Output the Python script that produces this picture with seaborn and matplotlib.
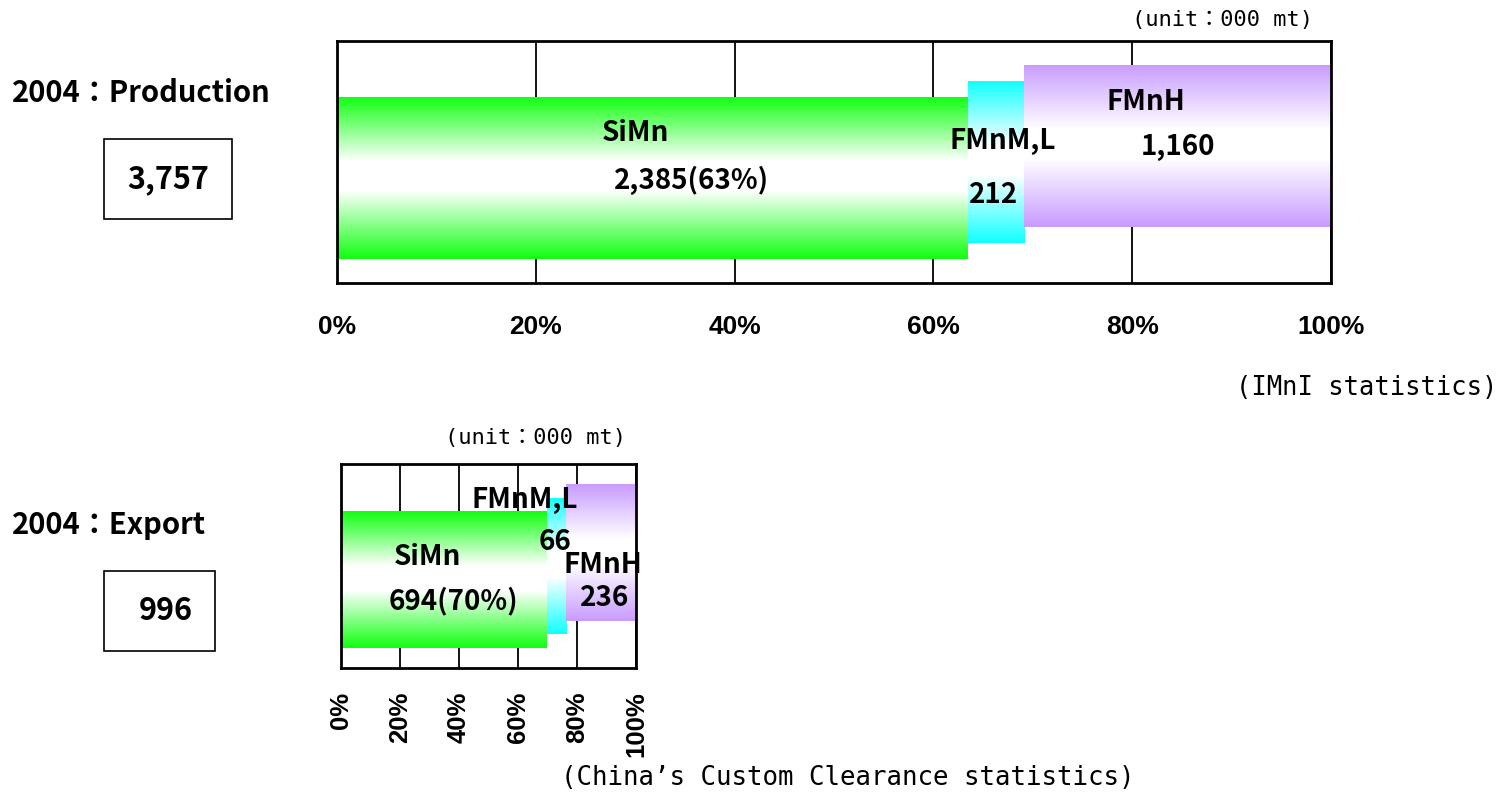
import numpy as np
import pandas as pd
import matplotlib
matplotlib.use("Agg")
import matplotlib.pyplot as plt
from matplotlib.colors import LinearSegmentedColormap
from matplotlib.patches import Rectangle
import seaborn as sns

# 2004 manganese alloys, 000 mt
grades = ["SiMn", "FMnM,L", "FMnH"]
production = [2385, 212, 1160]
export = [694, 66, 236]
bar_colors = ["#10ff10", "#10ffff", "#c89bff"]
tick_vals = [0, 20, 40, 60, 80, 100]
tick_labels = [f"{t}%" for t in tick_vals]

sns.set_theme(style="white")
plt.rcParams["font.family"] = ["Noto Sans CJK JP", "DejaVu Sans"]
plt.rcParams.update({"text.color": "black", "xtick.color": "black", "ytick.color": "black"})

MONO = ["DejaVu Sans Mono", "Noto Sans CJK JP"]
TICKFONT = ["Liberation Sans", "DejaVu Sans"]
BAR_H = 0.67
STEP = 0.065


def gradient_fill(ax, patch, color):
    cmap = LinearSegmentedColormap.from_list(
        "grad", [(0, color), (0.4, "white"), (0.58, "white"), (1, color)])
    grad = np.linspace(0, 1, 256).reshape(-1, 1)
    x0, y0 = patch.get_x(), patch.get_y()
    im = ax.imshow(grad, cmap=cmap, aspect="auto", origin="upper",
                   extent=(x0, x0 + patch.get_width(), y0, y0 + patch.get_height()),
                   zorder=2.5, interpolation="bilinear")
    im.set_clip_path(patch)


def draw_panel(ax, values, name_pos, val_pos, fs=20):
    total = sum(values)
    shares = [v / total * 100 for v in values]
    lefts = np.cumsum([0] + shares[:-1])
    for i, (share, left) in enumerate(zip(shares, lefts)):
        df = pd.DataFrame({"share": [share], "pos": [0.10 + STEP * i + BAR_H / 2]})
        sns.barplot(data=df, x="share", y="pos", orient="y", native_scale=True,
                    width=BAR_H, left=left, color=bar_colors[i], saturation=1,
                    errorbar=None, linewidth=0, zorder=2, ax=ax)
        gradient_fill(ax, ax.patches[-1], bar_colors[i])

    for i, v in enumerate(values):
        txt = f"{v:,}({v / total:.0%})" if i == 0 else f"{v:,}"
        ax.text(*name_pos[i], grades[i], ha="center", va="center",
                fontsize=fs, fontweight="bold", color="black", zorder=5)
        ax.text(*val_pos[i], txt, ha="center", va="center",
                fontsize=fs, fontweight="bold", color="black", zorder=5)

    ax.set_xlim(0, 100)
    ax.set_ylim(0, 1)
    ax.set_xlabel("")
    ax.set_ylabel("")
    ax.set_yticks([])
    ax.set_xticks(tick_vals)
    ax.xaxis.grid(True, color="black", linewidth=1.3)
    ax.set_axisbelow(True)
    for sp in ax.spines.values():
        sp.set_color("black")
        sp.set_linewidth(2)


fig = plt.figure(figsize=(15.03, 7.94), dpi=100)
ax1 = fig.add_axes([0.2242, 0.6436, 0.6613, 0.3048])
ax2 = fig.add_axes([0.2269, 0.1587, 0.1963, 0.2569])

draw_panel(ax1, production,
           name_pos=[(30.0, 0.62), (67.0, 0.587), (81.4, 0.748)],
           val_pos=[(35.7, 0.426), (66.1, 0.364), (84.6, 0.562)])
draw_panel(ax2, export,
           name_pos=[(29.2, 0.544), (62.4, 0.824), (88.8, 0.505)],
           val_pos=[(38.0, 0.328), (72.5, 0.618), (89.5, 0.343)])

ax1.set_xticklabels(tick_labels, fontsize=19, fontweight="bold", family=TICKFONT)
ax1.tick_params(axis="x", length=0, pad=23)
ax2.set_xticklabels(tick_labels, fontsize=18.5, fontweight="bold", family=TICKFONT, rotation=90)
ax2.tick_params(axis="x", length=0, pad=17)

# left-hand titles and total boxes
fig.text(0.008, 0.883, "2004：Production", fontsize=21, fontweight="bold", va="center")
fig.text(0.008, 0.3388, "2004：Export", fontsize=21, fontweight="bold", va="center")
fig.add_artist(Rectangle((0.0692, 0.7242), 0.0852, 0.1008, transform=fig.transFigure,
                         fill=False, edgecolor="black", linewidth=1.2))
fig.add_artist(Rectangle((0.0692, 0.1801), 0.0739, 0.1008, transform=fig.transFigure,
                         fill=False, edgecolor="black", linewidth=1.2))
fig.text(0.1118, 0.7746, f"{sum(production):,}", fontsize=22, fontweight="bold",
         ha="center", va="center")
fig.text(0.1104, 0.2305, f"{sum(export):,}", fontsize=22, fontweight="bold",
         ha="center", va="center")

# notes
fig.text(0.8137, 0.9748, "(unit：000 mt)", fontsize=15.8, family=MONO, ha="center", va="center")
fig.text(0.356, 0.4484, "(unit：000 mt)", fontsize=15.8, family=MONO, ha="center", va="center")
fig.text(0.996, 0.5113, "(IMnI statistics)", fontsize=18.4, family=MONO, ha="right", va="center")
fig.text(0.5642, 0.0202, "(China’s Custom Clearance statistics)", fontsize=18.5, family=MONO,
         ha="center", va="center")

fig.savefig("out.png", dpi=100)
